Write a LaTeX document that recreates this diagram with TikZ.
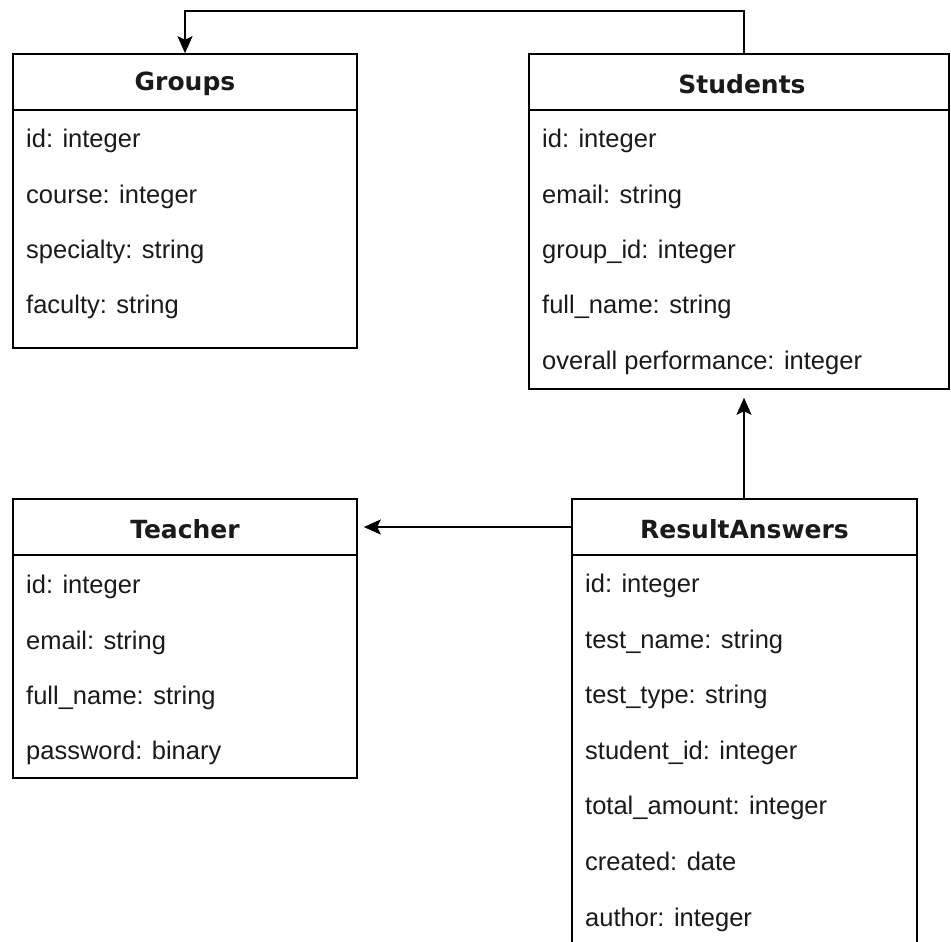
\documentclass[tikz,border=0pt]{standalone}
\usepackage{fontspec}
\setmainfont{Liberation Sans}
\newfontfamily\hdrfont{DejaVu Sans}[BoldFont={DejaVu Sans Bold}]
\usetikzlibrary{arrows.meta}
\definecolor{txt}{HTML}{1A1A1A}
\begin{document}
\begin{tikzpicture}[x=1pt,y=-1pt,
  hdr/.style={draw,line width=1.6pt,minimum height=56pt,inner sep=0pt},
  title/.style={inner sep=0pt,text=txt,font=\hdrfont\bfseries\fontsize{25}{29}\selectfont},
  bodybox/.style={draw,line width=1.6pt,inner sep=0pt},
  row/.style={anchor=mid west,inner sep=0pt,text=txt,font=\fontsize{25.5}{29}\selectfont},
  conn/.style={line width=1.6pt,-{Stealth[length=17pt,width=15pt,inset=3.5pt]}}]
\useasboundingbox (0,0) rectangle (951,942);
\clip (0,0) rectangle (951,942);
\fill[white] (0,0) rectangle (951,942);
% Groups
\node[hdr,minimum width=344pt] (gH) at (185,82) {};
\node[title] (gT) at (185,84) {Groups};
\node[bodybox,minimum width=344pt,minimum height=238pt] (gB) at (185,229) {};
\node[row] (g1) at (26,145) {id: integer};
\node[row] (g2) at (26,201) {course: integer};
\node[row] (g3) at (26,256) {specialty: string};
\node[row] (g4) at (26,311) {faculty: string};
% Students
\node[hdr,minimum width=420pt] (sH) at (739,82) {};
\node[title] (sT) at (742,84) {Students};
\node[bodybox,minimum width=420pt,minimum height=279pt] (sB) at (739,249.5) {};
\node[row] (s1) at (542,145) {id: integer};
\node[row] (s2) at (542,201) {email: string};
\node[row] (s3) at (542,256) {group\_id: integer};
\node[row] (s4) at (542,311) {full\_name: string};
\node[row] (s5) at (542,367) {overall performance: integer};
% Teacher
\node[hdr,minimum width=344pt] (tH) at (185,527) {};
\node[title] (tT) at (185,529) {Teacher};
\node[bodybox,minimum width=344pt,minimum height=223pt] (tB) at (185,666.5) {};
\node[row] (t1) at (26,591) {id: integer};
\node[row] (t2) at (26,647) {email: string};
\node[row] (t3) at (26,702) {full\_name: string};
\node[row] (t4) at (26,757) {password: binary};
% ResultAnswers
\node[hdr,minimum width=345pt] (rH) at (744.5,527) {};
\node[title] (rT) at (744.5,529) {ResultAnswers};
\node[bodybox,minimum width=345pt,minimum height=445pt] (rB) at (744.5,777.5) {};
\node[row] (r1) at (585,590) {id: integer};
\node[row] (r2) at (585,646) {test\_name: string};
\node[row] (r3) at (585,701) {test\_type: string};
\node[row] (r4) at (585,757) {student\_id: integer};
\node[row] (r5) at (585,812) {total\_amount: integer};
\node[row] (r6) at (585,868) {created: date};
\node[row] (r7) at (585,924) {author: integer};
% connectors
\coordinate (topR) at (744,11);
\coordinate (topL) at (185,11);
\draw[conn] (sH.north -| topR) -- (topR) -- (topL) -- (gH.north);
\draw[conn,shorten >=8pt] (rH.north -| 744,0) -- (sB.south -| 744,0);
\draw[conn,shorten >=6pt] (rH.west) -- (tH.east);
\end{tikzpicture}
\end{document}
